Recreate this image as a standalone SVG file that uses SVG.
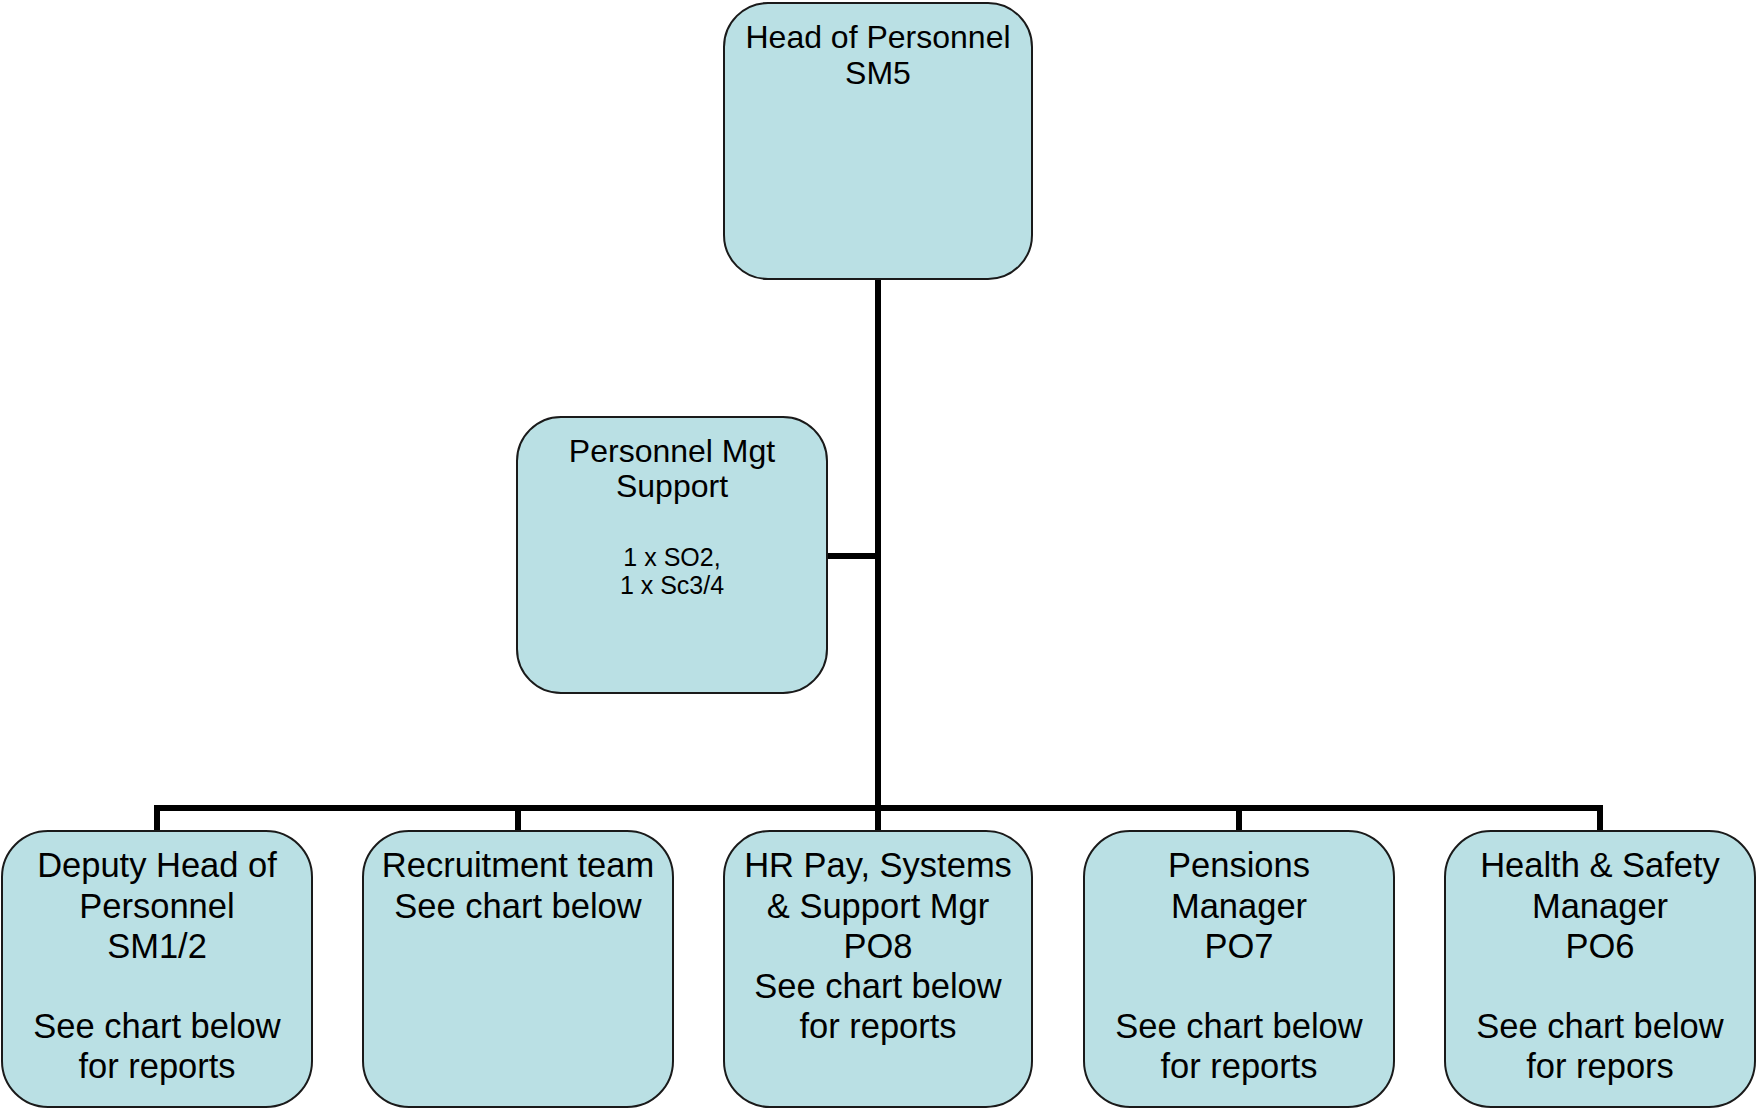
<svg xmlns="http://www.w3.org/2000/svg" width="1757" height="1108" viewBox="0 0 1757 1108">
  <style>
    .box { fill: #BAE0E4; stroke: #1a1a1a; stroke-width: 2; }
    .t { font-family: "Liberation Sans", Arial, Helvetica, sans-serif; fill: #000; text-anchor: middle; }
    .big { font-size: 34.5px; }
    .mid { font-size: 32px; }
    .small { font-size: 25px; }
    .conn { stroke: #000; stroke-width: 6; fill: none; }
  </style>
  <rect width="1757" height="1108" fill="#fff"/>

  <!-- connectors -->
  <g id="connectors">
    <line class="conn" x1="878" y1="279" x2="878" y2="831"/>
    <line class="conn" x1="827" y1="556" x2="881" y2="556"/>
    <polyline class="conn" points="157,831 157,808 1600,808 1600,831"/>
    <line class="conn" x1="518" y1="805" x2="518" y2="831"/>
    <line class="conn" x1="1239" y1="805" x2="1239" y2="831"/>
  </g>

  <!-- top node -->
  <g id="head-of-personnel">
    <rect class="box" x="724" y="3" width="308" height="276" rx="44"/>
    <text class="t mid" x="878" y="48">Head of Personnel</text>
    <text class="t mid" x="878" y="84">SM5</text>
  </g>

  <!-- assistant node -->
  <g id="personnel-mgt-support">
    <rect class="box" x="517" y="417" width="310" height="276" rx="44"/>
    <text class="t mid" x="672" y="462">Personnel Mgt</text>
    <text class="t mid" x="672" y="497">Support</text>
    <text class="t small" x="672" y="566">1 x SO2,</text>
    <text class="t small" x="672" y="594">1 x Sc3/4</text>
  </g>

  <!-- direct reports -->
  <g id="deputy-head">
    <rect class="box" x="2" y="831" width="310" height="276" rx="46"/>
    <text class="t big" x="157" y="877">Deputy Head of</text>
    <text class="t big" x="157" y="917.5">Personnel</text>
    <text class="t big" x="157" y="958">SM1/2</text>
    <text class="t big" x="157" y="1038">See chart below</text>
    <text class="t big" x="157" y="1078">for reports</text>
  </g>

  <g id="recruitment-team">
    <rect class="box" x="363" y="831" width="310" height="276" rx="46"/>
    <text class="t big" x="518" y="877">Recruitment team</text>
    <text class="t big" x="518" y="917.5">See chart below</text>
  </g>

  <g id="hr-pay-systems">
    <rect class="box" x="724" y="831" width="308" height="276" rx="46"/>
    <text class="t big" x="878" y="877">HR Pay, Systems</text>
    <text class="t big" x="878" y="917.5">&amp; Support Mgr</text>
    <text class="t big" x="878" y="958">PO8</text>
    <text class="t big" x="878" y="998">See chart below</text>
    <text class="t big" x="878" y="1038">for reports</text>
  </g>

  <g id="pensions-manager">
    <rect class="box" x="1084" y="831" width="310" height="276" rx="46"/>
    <text class="t big" x="1239" y="877">Pensions</text>
    <text class="t big" x="1239" y="917.5">Manager</text>
    <text class="t big" x="1239" y="958">PO7</text>
    <text class="t big" x="1239" y="1038">See chart below</text>
    <text class="t big" x="1239" y="1078">for reports</text>
  </g>

  <g id="health-safety-manager">
    <rect class="box" x="1445" y="831" width="310" height="276" rx="46"/>
    <text class="t big" x="1600" y="877">Health &amp; Safety</text>
    <text class="t big" x="1600" y="917.5">Manager</text>
    <text class="t big" x="1600" y="958">PO6</text>
    <text class="t big" x="1600" y="1038">See chart below</text>
    <text class="t big" x="1600" y="1078">for repors</text>
  </g>
</svg>
